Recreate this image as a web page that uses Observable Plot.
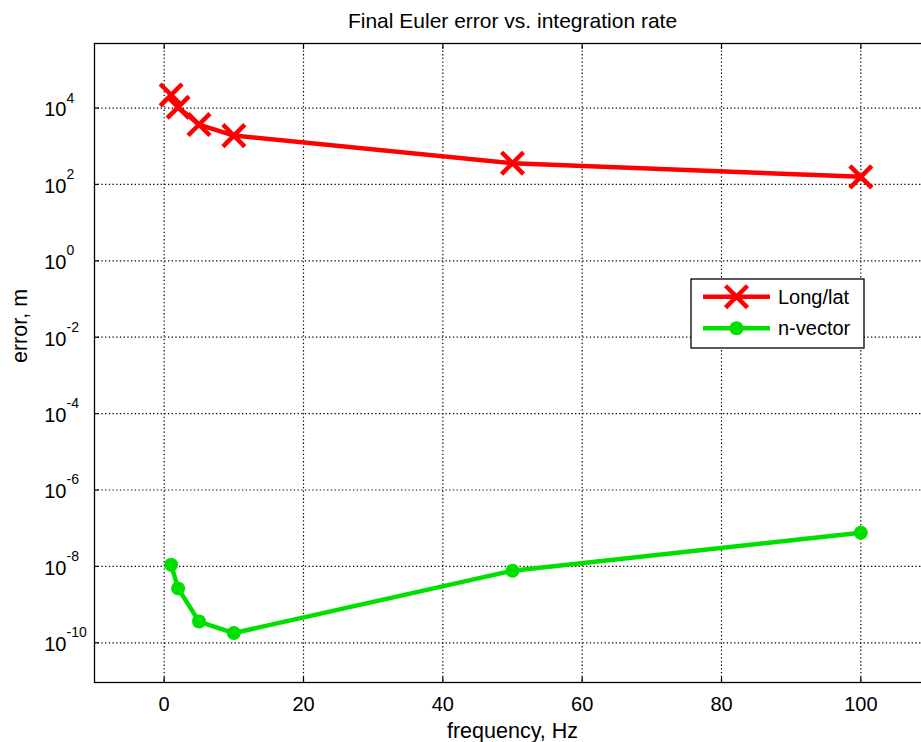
<!DOCTYPE html>
<html>
<head>
<meta charset="utf-8">
<script src="https://cdn.jsdelivr.net/npm/d3@7"></script>
<script src="https://cdn.jsdelivr.net/npm/@observablehq/plot@0.6"></script>
<style>
  html, body { margin: 0; padding: 0; overflow: hidden; background: #fff; }
  #wrap { position: relative; width: 921px; height: 742px; overflow: hidden; }
  #wrap > svg { max-width: none !important; display: block; }
  #legend { position: absolute; left: 0; top: 0; }
  svg text { font-family: Arial, "Liberation Sans", sans-serif; }
</style>
</head>
<body>
<div id="wrap"></div>
<script>
// Data
const frequency = [1, 2, 5, 10, 50, 100];
const longLatError = [2.2e4, 1.05e4, 3.7e3, 1.9e3, 360, 158];
const nVectorError = [1.1e-8, 2.65e-9, 3.6e-10, 1.8e-10, 7.7e-9, 7.6e-8];
const seriesNames = ["Long/lat", "n-vector"];
const xTicks = [0, 20, 40, 60, 80, 100];
const yTicks = [1e-10, 1e-8, 1e-6, 1e-4, 1e-2, 1e0, 1e2, 1e4];
const yExponents = ["-10", "-8", "-6", "-4", "-2", "0", "2", "4"];
const title = "Final Euler error vs. integration rate";
const xLabel = "frequency, Hz";
const yLabel = "error, m";

const red = "#ff0000";
const green = "#00e000";

const longLat = frequency.map((f, i) => ({f, e: longLatError[i]}));
const nVector = frequency.map((f, i) => ({f, e: nVectorError[i]}));
const yLab = yTicks.map((v, i) => ({v, exp: yExponents[i]}));

const font = "Arial, 'Liberation Sans', sans-serif";
const dotted = {stroke: "#000", strokeOpacity: 1, strokeDasharray: "1.3,2.4", strokeWidth: 1.2};

const chart = Plot.plot({
  width: 935,
  height: 742,
  marginLeft: 94,
  marginRight: 5,
  marginTop: 43,
  marginBottom: 60,
  style: {fontFamily: font, background: "#fff", maxWidth: "none"},
  x: {domain: [-10, 110]},
  y: {type: "log", domain: [Math.pow(10, -11.04), Math.pow(10, 5.69)]},
  marks: [
    Plot.gridX(xTicks, dotted),
    Plot.gridY(yTicks, dotted),
    // ticks inward
    Plot.axisX(xTicks, {anchor: "bottom", tickSize: -5, text: null, label: null, strokeWidth: 1.2}),
    Plot.axisX(xTicks, {anchor: "top", tickSize: -5, text: null, label: null, strokeWidth: 1.2}),
    Plot.axisY(yTicks, {anchor: "left", tickSize: -5, text: null, label: null, strokeWidth: 1.2}),
    // x tick labels
    Plot.text(xTicks, {x: d => d, text: d => String(d), frameAnchor: "bottom", dy: 28, fontSize: 20, fill: "#000"}),
    // y tick labels: base and exponent
    Plot.text(yLab, {y: "v", text: () => "10", frameAnchor: "left", textAnchor: "end", dx: -28, dy: 2, fontSize: 20, fill: "#000"}),
    Plot.text(yLab, {y: "v", text: "exp", frameAnchor: "left", textAnchor: "start", dx: -28, dy: -10, fontSize: 14, fill: "#000"}),
    // axis labels and title
    Plot.text([xLabel], {frameAnchor: "bottom", dy: 55, fontSize: 21.5, fill: "#000"}),
    Plot.text([yLabel], {frameAnchor: "left", dx: -74, rotate: -90, fontSize: 21.5, fill: "#000"}),
    Plot.text([title], {frameAnchor: "top", dy: -30, fontSize: 21, fill: "#000"}),
    // data
    Plot.line(longLat, {x: "f", y: "e", stroke: red, strokeWidth: 4.5}),
    Plot.dot(longLat, {x: "f", y: "e", symbol: "times", r: 10, stroke: red, strokeWidth: 4.5}),
    Plot.line(nVector, {x: "f", y: "e", stroke: green, strokeWidth: 4.5}),
    Plot.dot(nVector, {x: "f", y: "e", r: 7, fill: green, stroke: "none"}),
    Plot.frame({stroke: "#000", strokeWidth: 1.3})
  ]
});

document.getElementById("wrap").appendChild(chart);

// Legend overlay
const lg = d3.select("#wrap").append("svg")
  .attr("id", "legend").attr("width", 921).attr("height", 742)
  .style("pointer-events", "none");
const lx = 691, ly = 279, lw = 173, lh = 69;
lg.append("rect").attr("x", lx).attr("y", ly).attr("width", lw).attr("height", lh)
  .attr("fill", "#fff").attr("stroke", "#000").attr("stroke-width", 1.3);
const rows = [
  {name: seriesNames[0], color: red, sym: "times", y: ly + 17.7},
  {name: seriesNames[1], color: green, sym: "circle", y: ly + 49.3}
];
rows.forEach(r => {
  lg.append("line").attr("x1", lx + 12).attr("x2", lx + 79).attr("y1", r.y).attr("y2", r.y)
    .attr("stroke", r.color).attr("stroke-width", 4.5);
  const cx = lx + 45.5;
  if (r.sym === "times") {
    lg.append("path").attr("d", d3.symbol(d3.symbolTimes, Math.PI * 100)())
      .attr("transform", `translate(${cx},${r.y})`).attr("fill", "none")
      .attr("stroke", r.color).attr("stroke-width", 4.5);
  } else {
    lg.append("circle").attr("cx", cx).attr("cy", r.y).attr("r", 7).attr("fill", r.color);
  }
  lg.append("text").attr("x", lx + 87).attr("y", r.y).attr("dy", "0.35em")
    .attr("font-size", 20).attr("font-family", font).attr("fill", "#000").text(r.name);
});
</script>
</body>
</html>
